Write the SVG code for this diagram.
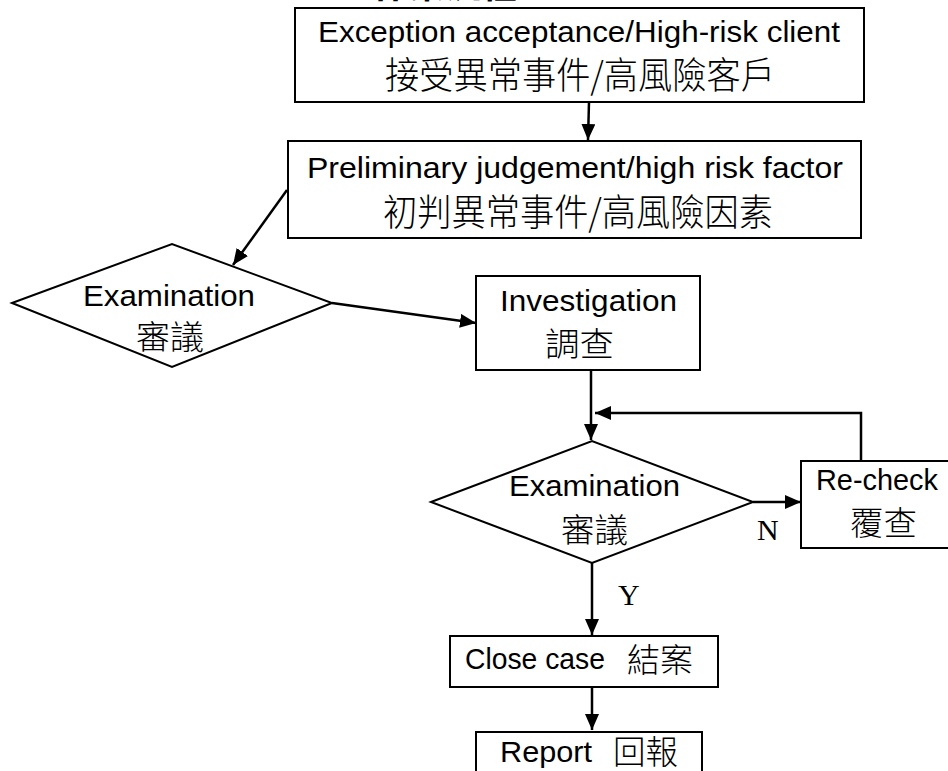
<svg xmlns="http://www.w3.org/2000/svg" width="948" height="771" viewBox="0 0 948 771">
<style>
.box{fill:#fff;stroke:#000;stroke-width:2}
.en{font-family:"Liberation Sans","Open Sans",sans-serif;font-size:30px;fill:#000}
.cjk{font-family:"Noto Sans CJK TC","Noto Sans CJK SC",sans-serif;font-size:33px;fill:#000;font-weight:300}
.big{font-size:37px}
.lbl{font-family:"Liberation Serif",serif;font-size:30px;fill:#000}
.ttl{font-family:"Noto Sans CJK TC",sans-serif;font-size:36px;font-weight:bold;fill:#000}
.con{fill:none;stroke:#000;stroke-width:2.5}
</style>
<defs>
<marker id="ah" viewBox="0 0 16 14" refX="16" refY="7" markerWidth="16" markerHeight="14" markerUnits="userSpaceOnUse" orient="auto">
<path d="M0,0 L16,7 L0,14 Z" fill="#000"/>
</marker>
</defs>
<text class="ttl" x="373" y="-2" textLength="144" lengthAdjust="spacingAndGlyphs">作業流程</text>
<g id="n1">
<rect class="box" x="295" y="8" width="569" height="94"/>
<text class="en" x="318" y="42" textLength="522" lengthAdjust="spacingAndGlyphs">Exception acceptance/High-risk client</text>
<text class="cjk big" x="385" y="89" textLength="390" lengthAdjust="spacingAndGlyphs">接受異常事件/高風險客戶</text>
</g>
<g id="n2">
<rect class="box" x="288" y="141" width="573" height="97"/>
<text class="en" x="307" y="178" textLength="536" lengthAdjust="spacingAndGlyphs">Preliminary judgement/high risk factor</text>
<text class="cjk big" x="383" y="226" textLength="390" lengthAdjust="spacingAndGlyphs">初判異常事件/高風險因素</text>
</g>
<g id="d1">
<polygon class="box" points="12,303 172,244 332,303 172,367"/>
<text class="en" x="83" y="306" textLength="172" lengthAdjust="spacingAndGlyphs">Examination</text>
<text class="cjk" x="136" y="349" textLength="68" lengthAdjust="spacingAndGlyphs">審議</text>
</g>
<g id="n3">
<rect class="box" x="476" y="276" width="224" height="94"/>
<text class="en" x="500" y="311" textLength="177" lengthAdjust="spacingAndGlyphs">Investigation</text>
<text class="cjk" x="545" y="356" textLength="69" lengthAdjust="spacingAndGlyphs">調查</text>
</g>
<g id="d2">
<polygon class="box" points="431,502 592,441 753,502 592,563"/>
<text class="en" x="509" y="496" textLength="171" lengthAdjust="spacingAndGlyphs">Examination</text>
<text class="cjk" x="561" y="542" textLength="67" lengthAdjust="spacingAndGlyphs">審議</text>
</g>
<g id="n4">
<rect class="box" x="801" y="461" width="160" height="87"/>
<text class="en" x="816" y="490" textLength="122" lengthAdjust="spacingAndGlyphs">Re-check</text>
<text class="cjk" x="850" y="535" textLength="67" lengthAdjust="spacingAndGlyphs">覆查</text>
</g>
<g id="n5">
<rect class="box" x="450" y="636" width="268" height="51"/>
<text class="en" x="465" y="669" textLength="140" lengthAdjust="spacingAndGlyphs">Close case</text>
<text class="cjk" x="627" y="672" textLength="66" lengthAdjust="spacingAndGlyphs">結案</text>
</g>
<g id="n6">
<rect class="box" x="476" y="732" width="226" height="60"/>
<text class="en" x="500" y="762" textLength="92" lengthAdjust="spacingAndGlyphs">Report</text>
<text class="cjk" x="613" y="764" textLength="65" lengthAdjust="spacingAndGlyphs">回報</text>
</g>
<g id="connectors">
<line class="con" x1="589" y1="102" x2="588" y2="140" marker-end="url(#ah)"/>
<line class="con" x1="287" y1="190" x2="233" y2="265" marker-end="url(#ah)"/>
<line class="con" x1="332" y1="303" x2="476" y2="323" marker-end="url(#ah)"/>
<line class="con" x1="591" y1="370" x2="591" y2="440" marker-end="url(#ah)"/>
<path class="con" d="M861,461 V413 H595" marker-end="url(#ah)"/>
<line class="con" x1="753" y1="502" x2="801" y2="502" marker-end="url(#ah)"/>
<line class="con" x1="592" y1="563" x2="592" y2="635" marker-end="url(#ah)"/>
<line class="con" x1="592" y1="688" x2="592" y2="730" marker-end="url(#ah)"/>
<text class="lbl" x="757" y="540">N</text>
<text class="lbl" x="618" y="605">Y</text>
</g>
</svg>
